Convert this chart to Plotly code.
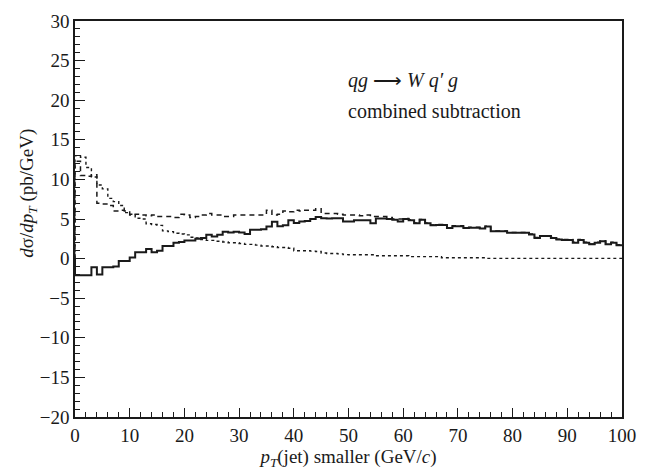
import plotly.graph_objects as go

# bin lower edges (1 GeV bins from 0 to 100)
bin_edges = list(range(0, 101))

solid_vals = [
    -2.1, -2.1, -2.1, -1.1, -2.0, -1.1, -1.1, -1.0, -0.3, -0.3,
    0.15, 0.8, 0.8, 1.2, 0.8, 1.0, 1.6, 1.6, 2.0, 2.1,
    2.3, 2.3, 2.5, 2.6, 3.0, 2.8, 3.0, 3.4, 3.3, 3.4,
    3.3, 3.1, 3.65, 3.65, 3.7, 4.05, 4.65, 4.1, 4.2, 4.85,
    4.5, 4.7, 4.75, 5.0, 5.25, 5.1, 5.05, 5.1, 5.1, 4.7,
    4.7, 4.85, 4.85, 4.85, 4.45, 5.05, 5.05, 5.0, 4.9, 4.7,
    5.0, 4.85, 4.45, 4.9, 4.45, 4.2, 4.25, 4.25, 3.85, 4.1,
    4.1, 3.85, 3.9, 3.9, 3.8, 4.05, 3.45, 3.45, 3.45, 3.25,
    3.25, 3.25, 3.25, 3.05, 2.6, 2.85, 2.85, 2.6, 2.4, 2.35,
    2.35, 2.0, 2.35, 2.0, 1.8, 2.0, 2.2, 1.8, 2.0, 1.7,
]

dashed_vals = [
    12.3, 10.5, 10.4, 10.6, 7.0, 6.9, 6.7, 6.0, 6.1, 6.0,
    5.5, 5.6, 5.5, 5.4, 5.5, 5.3, 5.3, 5.3, 5.2, 5.6,
    5.5, 5.2, 5.3, 5.5, 5.7, 5.5, 5.5, 5.3, 5.3, 5.5,
    5.5, 5.5, 5.5, 5.5, 5.5, 6.1, 5.5, 5.6, 6.0, 5.9,
    6.1, 6.0, 6.1, 6.1, 6.3, 5.7, 5.7, 5.7, 5.6, 5.5,
    5.5, 5.5, 5.4, 5.5, 5.3, 5.3, 5.3, 5.2, 5.0, 5.0,
    5.05, 4.9, 4.5, 4.95, 4.5, 4.25, 4.3, 4.3, 3.9, 4.15,
    4.15, 3.9, 3.95, 3.95, 3.85, 4.1, 3.5, 3.5, 3.5, 3.3,
    3.3, 3.3, 3.3, 3.1, 2.65, 2.9, 2.9, 2.65, 2.45, 2.4,
    2.4, 2.05, 2.4, 2.05, 1.85, 2.05, 2.25, 1.85, 2.05, 1.75,
]

dotted_vals = [
    13.0, 12.8, 11.5, 10.3, 9.3, 8.8, 7.6, 7.2, 6.7, 5.8,
    5.6, 5.1, 5.0, 4.4, 4.3, 4.2, 3.5, 3.4, 3.2, 3.1,
    3.0, 2.7, 2.6, 2.4, 2.3, 2.3, 2.2, 2.1, 2.0, 2.0,
    1.9, 1.8, 1.8, 1.7, 1.6, 1.6, 1.5, 1.4, 1.4, 1.3,
    1.0, 1.0, 1.0, 0.95, 0.9, 0.7, 0.65, 0.65, 0.6, 0.5,
    0.48, 0.48, 0.48, 0.48, 0.48, 0.36, 0.36, 0.36, 0.36, 0.36,
    0.36, 0.25, 0.25, 0.25, 0.25, 0.25, 0.25, 0.1, 0.1, 0.1,
    0.1, 0.1, 0.1, 0.1, 0.1, 0.03, 0.03, 0.03, 0.03, 0.03,
    0.03, 0.03, 0.03, 0.03, 0.03, 0.03, 0.03, 0.03, 0.03, 0.03,
    0.03, 0.03, 0.03, 0.03, 0.03, 0.03, 0.03, 0.03, 0.03, 0.03,
]

y_ticks = [-20, -15, -10, -5, 0, 5, 10, 15, 20, 25, 30]
x_ticks = [0, 10, 20, 30, 40, 50, 60, 70, 80, 90, 100]

FONT = "Liberation Serif, Times New Roman, serif"
INK = "#1a1a1a"


def hist_xy(vals):
    # histogram outline: rise from the baseline at the first edge, step through bins
    xs = [bin_edges[0]] + bin_edges
    ys = [0] + vals + [vals[-1]]
    return xs, ys


fig = go.Figure()
for vals, ln in [
    (dotted_vals, dict(color=INK, width=1.4, dash="dot")),
    (dashed_vals, dict(color=INK, width=1.5, dash="5px,4px")),
    (solid_vals, dict(color=INK, width=2)),
]:
    xs, ys = hist_xy(vals)
    fig.add_trace(go.Scatter(x=xs, y=ys, mode="lines", line_shape="hv",
                             line=ln, hoverinfo="skip"))

fig.update_layout(
    width=647, height=475,
    margin=dict(l=75, r=16, t=11, b=58),
    paper_bgcolor="white", plot_bgcolor="white",
    showlegend=False,
    font=dict(family=FONT, size=19, color=INK),
)

fig.update_xaxes(
    range=[0, 100], tickvals=x_ticks, ticks="inside", ticklen=9, tickwidth=1.3,
    tickcolor=INK, showline=True, linecolor=INK, linewidth=1.5, mirror=True,
    showgrid=False, zeroline=False,
    minor=dict(dtick=2, ticks="inside", ticklen=5, tickwidth=1.2, tickcolor=INK, showgrid=False),
    tickfont=dict(family=FONT, size=19, color=INK),
    title=dict(text="<i>p<sub>T</sub></i>(jet) smaller (GeV/<i>c</i>)",
               font=dict(family=FONT, size=19, color=INK), standoff=4),
)
fig.update_yaxes(
    range=[-20, 30], tickvals=y_ticks, ticks="inside", ticklen=10, tickwidth=1.3,
    tickcolor=INK, showline=True, linecolor=INK, linewidth=1.5, mirror=True,
    showgrid=False, zeroline=False,
    minor=dict(dtick=1, ticks="inside", ticklen=5, tickwidth=1.2, tickcolor=INK, showgrid=False),
    tickfont=dict(family=FONT, size=19, color=INK),
)

fig.add_annotation(
    text="<i>d</i>σ/<i>dp<sub>T</sub></i> (pb/GeV)",
    xref="paper", yref="paper", x=-0.085, y=0.565, textangle=-90,
    showarrow=False, font=dict(family=FONT, size=19, color=INK),
    xanchor="center", yanchor="middle",
)
fig.add_annotation(
    text="<i>qg</i> ⟶ <i>W q′ g</i>",
    xref="paper", yref="paper", x=0.495, y=0.85, xanchor="left", yanchor="middle",
    showarrow=False, font=dict(family=FONT, size=20, color=INK),
)
fig.add_annotation(
    text="combined subtraction",
    xref="paper", yref="paper", x=0.495, y=0.773, xanchor="left", yanchor="middle",
    showarrow=False, font=dict(family=FONT, size=20, color=INK),
)

fig.write_html("out.html")
